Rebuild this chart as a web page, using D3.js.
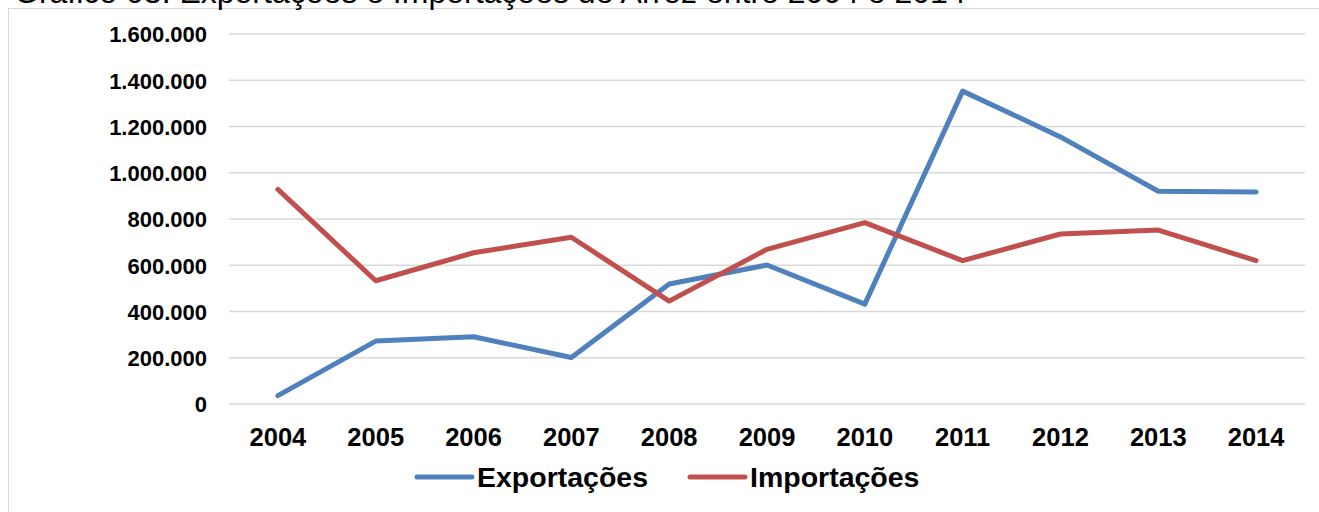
<!DOCTYPE html>
<html><head><meta charset="utf-8">
<script src="https://cdn.jsdelivr.net/npm/d3@7"></script>
<style>body{margin:0;background:#fff}svg{display:block}text{font-family:"Liberation Sans",Arial,sans-serif}</style>
</head><body>
<svg id="c" width="1319" height="512"></svg>
<script>
const years = ["2004","2005","2006","2007","2008","2009","2010","2011","2012","2013","2014"];
const exportacoes = [36000, 272000, 291000, 201000, 519000, 601000, 432000, 1353000, 1155000, 920000, 917000];
const importacoes = [928000, 533000, 654000, 721000, 445000, 669000, 784000, 620000, 735000, 752000, 620000];
const yTicks = [0, 200000, 400000, 600000, 800000, 1000000, 1200000, 1400000, 1600000];
const seriesNames = ["Exportações", "Importações"];
const colors = ["#4F81BD", "#C0504D"];
const title = "Gráfico 03: Exportações e Importações de Arroz entre 2004 e 2014";

const svg = d3.select("#c");
const L = 229, R = 1305, T = 34, B = 404;
const x = d3.scaleBand().domain(years).range([L, R]);
const y = d3.scaleLinear().domain([0, 1600000]).range([B, T]);
const fmt = v => d3.format(",")(v).replace(/,/g, ".");

svg.append("rect").attr("x", 8.5).attr("y", 8.5).attr("width", 1330).attr("height", 520)
  .attr("fill", "none").attr("stroke", "#D9D9D9").attr("stroke-width", 1);

svg.append("text").attr("x", 14).attr("y", 3).attr("font-size", 32).attr("fill", "#000").text(title);

// gridlines
svg.append("g").selectAll("line").data(yTicks).join("line")
  .attr("x1", L).attr("x2", R).attr("y1", d => y(d)).attr("y2", d => y(d))
  .attr("stroke", "#D9D9D9").attr("stroke-width", 1.5);

// y axis labels
const yAxis = d3.axisLeft(y).tickValues(yTicks).tickFormat(fmt).tickSize(0).tickPadding(0);
const gy = svg.append("g").attr("transform", `translate(207,0)`).call(yAxis);
gy.select(".domain").remove();
gy.selectAll("text").attr("font-size", 22).attr("font-weight", "bold").attr("fill", "#000")
  .attr("font-family", "Liberation Sans, Arial, sans-serif").attr("dy", "0.36em");

// x axis labels
const xAxis = d3.axisBottom(x).tickSize(0).tickPadding(0);
const gx = svg.append("g").attr("transform", `translate(0,${B})`).call(xAxis);
gx.select(".domain").remove();
gx.selectAll("text").attr("font-size", 25.5).attr("font-weight", "bold").attr("fill", "#000")
  .attr("font-family", "Liberation Sans, Arial, sans-serif").attr("y", 42).attr("dy", 0);

const line = d3.line().x((d, i) => x(years[i]) + x.bandwidth() / 2).y(d => y(d));
[exportacoes, importacoes].forEach((s, k) => {
  svg.append("path").datum(s).attr("d", line).attr("fill", "none")
    .attr("stroke", colors[k]).attr("stroke-width", 5).attr("stroke-linecap", "round").attr("stroke-linejoin", "round");
});

// legend
const legX = [417, 690];
seriesNames.forEach((n, k) => {
  const g = svg.append("g").attr("transform", `translate(${legX[k]},477)`);
  g.append("line").attr("x1", 0).attr("x2", 55).attr("y1", 0).attr("y2", 0)
    .attr("stroke", colors[k]).attr("stroke-width", 5).attr("stroke-linecap", "round");
  g.append("text").attr("x", 60).attr("y", 10).attr("font-size", 28.5).attr("font-weight", "bold")
    .attr("fill", "#000").text(n);
});
</script>
</body></html>
